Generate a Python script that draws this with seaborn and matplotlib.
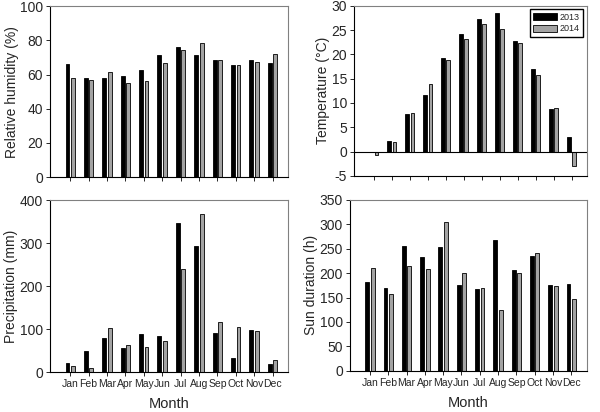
import numpy as np
import pandas as pd
import matplotlib
matplotlib.use("Agg")
import matplotlib.pyplot as plt
import seaborn as sns

# =====================================================
# DATA
# =====================================================

months = ["Jan", "Feb", "Mar", "Apr", "May", "Jun",
          "Jul", "Aug", "Sep", "Oct", "Nov", "Dec"]
years = ["2013", "2014"]

humidity_2013 = [66.3, 58.2, 57.9, 59.4, 62.7, 71.5, 76.0, 71.5, 68.4, 65.5, 68.4, 67.0]
humidity_2014 = [57.9, 57.1, 61.6, 55.3, 56.5, 66.6, 74.3, 78.2, 68.4, 65.7, 67.4, 71.9]

temp_2013 = [0.0, 2.1, 7.7, 11.6, 19.2, 24.1, 27.2, 28.6, 22.7, 16.9, 8.8, 3.1]
temp_2014 = [-0.7, 1.9, 7.9, 14.0, 18.9, 23.2, 26.2, 25.3, 22.3, 15.7, 9.0, -3.0]

precip_2013 = [22, 49, 79, 57, 88, 85, 347, 294, 90, 32, 97, 19]
precip_2014 = [15, 10, 102, 63, 59, 72, 239, 369, 117, 106, 96, 29]

sun_2013 = [182, 169, 256, 232, 253, 176, 167, 268, 207, 236, 176, 178]
sun_2014 = [211, 158, 215, 208, 305, 200, 170, 124, 200, 242, 174, 146]


def long_form(v13, v14):
    return pd.DataFrame({
        "Month": months * 2,
        "Year": [years[0]] * 12 + [years[1]] * 12,
        "Value": list(v13) + list(v14),
    })


# =====================================================
# STYLE
# =====================================================

sns.set_style("ticks")
plt.rcParams["font.family"] = ["Liberation Sans", "DejaVu Sans"]
plt.rcParams["axes.linewidth"] = 0.8

palette = {"2013": "black", "2014": "#a3a3a3"}

fig = plt.figure(figsize=(6, 4.12), dpi=100)

panels = [
    # data, ylabel, ylim, yticks, rect, show month labels
    (long_form(humidity_2013, humidity_2014), "Relative humidity (%)",
     (0, 100), np.arange(0, 101, 20), [0.0833, 0.570, 0.397, 0.415], False),
    (long_form(temp_2013, temp_2014), "Temperature (\u00b0C)",
     (-5, 30), np.arange(-5, 31, 5), [0.590, 0.573, 0.388, 0.413], False),
    (long_form(precip_2013, precip_2014), "Precipitation (mm)",
     (0, 400), np.arange(0, 401, 100), [0.0833, 0.097, 0.397, 0.417], True),
    (long_form(sun_2013, sun_2014), "Sun duration (h)",
     (0, 350), np.arange(0, 351, 50), [0.583, 0.100, 0.395, 0.415], True),
]

for i, (df, ylabel, ylim, yticks, rect, show_months) in enumerate(panels):
    ax = fig.add_axes(rect)
    sns.barplot(
        data=df, x="Month", y="Value", hue="Year",
        palette=palette, edgecolor="black", linewidth=0.6,
        width=0.6, gap=0.3, ax=ax, legend=(i == 1),
    )
    ax.set_xlim(-1.1, 11.85)
    ax.set_ylim(*ylim)
    ax.set_yticks(yticks)
    ax.set_yticklabels([str(t) for t in yticks], fontsize=10)
    ax.set_ylabel(ylabel, fontsize=10, labelpad=1)

    if show_months:
        ax.set_xticklabels(months, fontsize=7.5)
        ax.set_xlabel("Month", fontsize=10.5, labelpad=6)
    else:
        ax.set_xticklabels([])
        ax.set_xlabel("")

    ax.tick_params(axis="both", direction="out", length=3, width=0.7, pad=2)

    for side in ["top", "right"]:
        ax.spines[side].set_color("#808080")
    for side in ["left", "bottom"]:
        ax.spines[side].set_color("black")

    if ylim[0] < 0:
        ax.axhline(0, color="black", linewidth=0.8)

    if i == 1:
        ax.legend(
            loc="upper right", fontsize=6.5, frameon=True, fancybox=False,
            edgecolor="black", framealpha=1, handlelength=2.6,
            handleheight=0.8, borderpad=0.4, labelspacing=0.25,
            handletextpad=0.3, borderaxespad=0.4,
        )

fig.savefig("out.png", dpi=100)
